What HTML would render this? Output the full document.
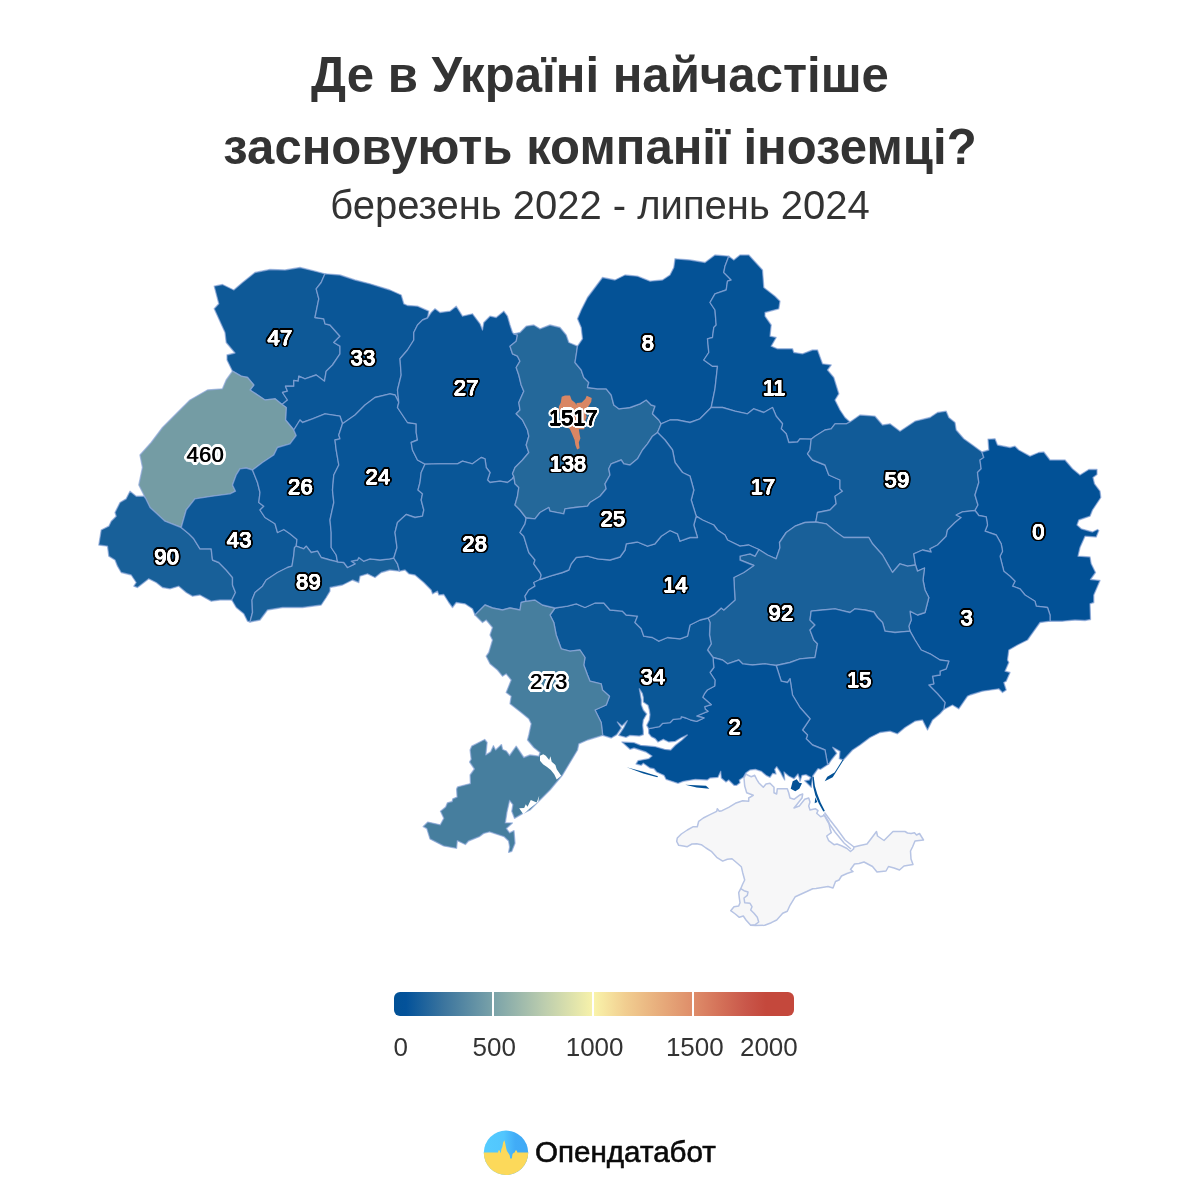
<!DOCTYPE html>
<html lang="uk"><head><meta charset="utf-8"><title>Де в Україні найчастіше засновують компанії іноземці?</title>
<style>
html,body{margin:0;padding:0;background:#fff}
body{width:1200px;height:1200px;position:relative;overflow:hidden;font-family:"Liberation Sans",Arial,sans-serif;color:#333}
.t{position:absolute;left:0;width:1200px;text-align:center;white-space:nowrap;margin:0}
h1.t{font-size:49.1px;font-weight:700;line-height:72px;top:38.8px}
.sub{font-size:40px;line-height:46px;top:182.4px}
.bar{position:absolute;left:394px;top:992px;width:400px;height:24px;border-radius:6px;
background:linear-gradient(to right,#025196 0%,#03529a 3%,#3c759e 12.5%,#7ba3a9 25%,#bccdae 37.5%,#f9f3aa 50%,#f1cd90 58%,#e9b27f 65%,#de8c69 75%,#d36f57 82%,#c9574a 88%,#c4483c 93%,#c4483c 100%)}
.tick{position:absolute;top:992px;width:2px;height:24px;background:#fff}
.lab{position:absolute;top:1033px;font-size:26px;line-height:28px;white-space:nowrap}
.lab.c{width:100px;margin-left:-50px;text-align:center}
.lab.r{width:100px;margin-left:-100px;text-align:right}
.l{position:absolute;width:80px;height:28px;line-height:28px;text-align:center;font-size:21.8px;font-weight:400;letter-spacing:0.4px;white-space:nowrap}
.ld{color:#fff;text-shadow:0.50px 0.00px 0 #fff,0.35px 0.35px 0 #fff,0.00px 0.50px 0 #fff,-0.35px 0.35px 0 #fff,-0.50px 0.00px 0 #fff,-0.35px -0.35px 0 #fff,-0.00px -0.50px 0 #fff,0.35px -0.35px 0 #fff,1.45px 0.00px 0 #000,1.26px 0.72px 0 #000,0.73px 1.26px 0 #000,0.00px 1.45px 0 #000,-0.72px 1.26px 0 #000,-1.26px 0.72px 0 #000,-1.45px 0.00px 0 #000,-1.26px -0.72px 0 #000,-0.73px -1.26px 0 #000,-0.00px -1.45px 0 #000,0.73px -1.26px 0 #000,1.26px -0.73px 0 #000,2.40px 0.00px 0 #000,2.22px 0.92px 0 #000,1.70px 1.70px 0 #000,0.92px 2.22px 0 #000,0.00px 2.40px 0 #000,-0.92px 2.22px 0 #000,-1.70px 1.70px 0 #000,-2.22px 0.92px 0 #000,-2.40px 0.00px 0 #000,-2.22px -0.92px 0 #000,-1.70px -1.70px 0 #000,-0.92px -2.22px 0 #000,-0.00px -2.40px 0 #000,0.92px -2.22px 0 #000,1.70px -1.70px 0 #000,2.22px -0.92px 0 #000;}
.lk{color:#000;text-shadow:0.50px 0.00px 0 #000,0.35px 0.35px 0 #000,0.00px 0.50px 0 #000,-0.35px 0.35px 0 #000,-0.50px 0.00px 0 #000,-0.35px -0.35px 0 #000,-0.00px -0.50px 0 #000,0.35px -0.35px 0 #000,1.55px 0.00px 0 #fff,1.34px 0.77px 0 #fff,0.78px 1.34px 0 #fff,0.00px 1.55px 0 #fff,-0.77px 1.34px 0 #fff,-1.34px 0.77px 0 #fff,-1.55px 0.00px 0 #fff,-1.34px -0.77px 0 #fff,-0.78px -1.34px 0 #fff,-0.00px -1.55px 0 #fff,0.78px -1.34px 0 #fff,1.34px -0.78px 0 #fff,2.60px 0.00px 0 #fff,2.40px 0.99px 0 #fff,1.84px 1.84px 0 #fff,0.99px 2.40px 0 #fff,0.00px 2.60px 0 #fff,-0.99px 2.40px 0 #fff,-1.84px 1.84px 0 #fff,-2.40px 0.99px 0 #fff,-2.60px 0.00px 0 #fff,-2.40px -0.99px 0 #fff,-1.84px -1.84px 0 #fff,-0.99px -2.40px 0 #fff,-0.00px -2.60px 0 #fff,0.99px -2.40px 0 #fff,1.84px -1.84px 0 #fff,2.40px -0.99px 0 #fff;}
.ll{color:#000;text-shadow:0.70px 0 0 #000,1.90px 0.00px 0 #fff,1.69px 0.77px 0 #fff,1.12px 1.34px 0 #fff,0.35px 1.55px 0 #fff,-0.42px 1.34px 0 #fff,-0.99px 0.77px 0 #fff,-1.20px 0.00px 0 #fff,-0.99px -0.77px 0 #fff,-0.43px -1.34px 0 #fff,0.35px -1.55px 0 #fff,1.12px -1.34px 0 #fff,1.69px -0.78px 0 #fff,3.10px 0.00px 0 #fff,2.89px 1.05px 0 #fff,2.29px 1.94px 0 #fff,1.40px 2.54px 0 #fff,0.35px 2.75px 0 #fff,-0.70px 2.54px 0 #fff,-1.59px 1.94px 0 #fff,-2.19px 1.05px 0 #fff,-2.40px 0.00px 0 #fff,-2.19px -1.05px 0 #fff,-1.59px -1.94px 0 #fff,-0.70px -2.54px 0 #fff,0.35px -2.75px 0 #fff,1.40px -2.54px 0 #fff,2.29px -1.94px 0 #fff,2.89px -1.05px 0 #fff,3px 0 0 #fff,-2.8px 0 0 #fff;}
.brand{position:absolute;left:535px;top:1133.6px;font-size:29.6px;line-height:36px;font-weight:400;color:#0a0a0a;white-space:nowrap;-webkit-text-stroke:0.6px #0a0a0a}
</style></head><body>
<h1 class="t">Де в Україні найчастіше<br>засновують компанії іноземці?</h1>
<div class="t sub">березень 2022 - липень 2024</div>
<svg width="1200" height="1200" viewBox="0 0 1200 1200" style="position:absolute;left:0;top:0">
<path d="M746 774 L748 775.3 L751.3 776.7 L754.7 775.3 L756.7 779.3 L758.7 782.7 L763.3 787.3 L766 784 L770 783.3 L774 787.3 L774 792.7 L776.7 794 L777.3 788.7 L782 788.7 L787.3 788.7 L788.7 792.7 L790 798 L794 799.3 L799.3 795.3 L802.7 794 L802 798 L796.7 804.7 L794 808 L799.3 806 L804.7 799.3 L808.7 798 L810 802 L808.7 806 L810 810 L815.3 808.7 L818 810.7 L816.7 813.3 L820.7 816.7 L824.7 815.3 L828.7 822 L830 828.7 L831.3 832.7 L826.7 836 L828.7 840.7 L834 844.7 L837 844 L842 846 L847 848.5 L850.5 851.5 L853.5 849 L854 847 L860 845.5 L867 844 L872 837.5 L876.5 831.5 L877.5 836 L884 840.5 L889 835.5 L893 831.5 L905 831.5 L907.5 833 L911 833.5 L914.5 832.8 L916.5 835 L919.5 833.5 L923.5 840 L915 841 L912.5 847 L910.5 851 L911 859 L913 864.5 L904 866 L899.5 870 L894 868 L888.5 866.5 L886 871 L877 872 L872.5 866.5 L864 862 L859 863.5 L854.5 864 L850.5 869.5 L853 871.5 L847 873.5 L841.5 876 L839 880 L835.5 881.5 L833 888 L828 886.5 L822 887.5 L816 888.5 L812.7 888.7 L807.3 891.3 L801.3 894 L795.3 896.7 L790 905.3 L787.3 911.3 L782.7 913.3 L776.7 920 L771.3 922.7 L764.7 925.3 L755.3 925.6 L750.7 925.3 L746 920 L743.3 916 L739.3 917.3 L735.3 914 L730.7 910.7 L734 906.7 L738.7 906 L740 902.7 L739.3 898 L738.7 892.7 L740.7 888.7 L742.7 884 L744.7 880 L742.7 872.7 L741.3 866.7 L736.7 862.7 L732 858.7 L727.3 859.3 L722.7 861.1 L716.7 857.3 L711.3 851.3 L706 848 L701.3 844.7 L696.7 843.7 L692 844 L687.3 846.7 L683.3 846 L678.7 845.3 L676.7 841.3 L677.3 838 L681.3 834 L687.3 830 L693.3 826.7 L697.3 826.7 L698.7 821.3 L703.3 818 L710 814.7 L716.7 811.3 L717.3 808.7 L719.3 811.3 L722 810.7 L728.7 807.3 L735.3 803.3 L742.7 800.7 L748.7 801.3 L748.7 798 L753.3 795.3 L746.7 792.7 L744.7 786 L744 778Z" fill="#f7f7f8" stroke="#b7c4e4" stroke-width="1.5" stroke-linejoin="round"/>
<path d="M740.7 888.7 L744 890.7 L748 892 L747.3 895.3 L744 898 L744.7 902.7 L750 903.3 L752 906.7 L750.7 910 L754 913.3 L757.3 917.3 L758.7 922 L755.3 924.7 L750.7 925.3" fill="none" stroke="#b7c4e4" stroke-width="1.5" stroke-linejoin="round"/>
<g stroke="#8ba6d9" stroke-opacity="0.7" stroke-width="1.35" stroke-linejoin="round">
<path d="M232.5 371.2 L227 360 L227 355 L235 353 L226.2 342.5 L225 332.5 L214.2 308.8 L218.8 303.8 L214.2 286.2 L222.5 284.5 L233.8 290 L242.5 282.5 L255 272.5 L270 269.5 L285 270 L300 267.5 L315 271.2 L325 273.8 L321.2 282.5 L316.2 288.8 L318.8 298.8 L315 317.5 L323.8 318.8 L325 323.8 L330 325 L340 336.2 L333.8 342.5 L340 346.2 L340 353.8 L332.5 365 L326.2 371.2 L324.5 381.2 L316.2 375 L305 378.8 L298.8 376.2 L298.2 381.2 L293.8 380.5 L293.8 386.2 L285.5 386.2 L287.5 391.2 L282.5 392.5 L287.5 400 L282 404.5 L275 398.8 L265 400 L250 390 L253.8 385 L247.5 377.5 L241.2 376.2Z" fill="#0e5997"/>
<path d="M325 273.8 L340 275 L355 280 L370 283.8 L390 290 L401.2 295 L403.8 303.8 L407.5 305.5 L417.5 306.2 L428.8 311.2 L427.5 318 L422.5 320 L417.5 325 L413.8 332.5 L413.8 340 L407.5 350 L400 358.8 L401.2 375 L397.5 390 L398.8 402.5 L395 395 L390 393.8 L375 397.5 L365 405 L355 415 L342.5 423.8 L340 416.2 L325 413.8 L312.5 418.8 L302.5 422.5 L300 420 L293.8 430 L285.5 420 L286.2 407.5 L282 404.5 L287.5 400 L282.5 392.5 L287.5 391.2 L285.5 386.2 L293.8 386.2 L293.8 380.5 L298.2 381.2 L298.8 376.2 L305 378.8 L316.2 375 L324.5 381.2 L326.2 371.2 L332.5 365 L340 353.8 L340 346.2 L333.8 342.5 L340 336.2 L330 325 L325 323.8 L323.8 318.8 L315 317.5 L318.8 298.8 L316.2 288.8 L321.2 282.5Z" fill="#0a5697"/>
<path d="M145.5 498.2 L138.8 485 L142.5 467.5 L140 455 L151.2 442.5 L162.5 427.5 L176.2 413.8 L190 400 L207.5 390 L222.5 388.8 L226.2 380 L232.5 371.2 L241.2 376.2 L247.5 377.5 L253.8 385 L250 390 L265 400 L275 398.8 L282 404.5 L286.2 407.5 L285.5 420 L293.8 430 L296.2 435.5 L290 443.8 L277.5 447.5 L273.8 455 L262.5 462.5 L252.5 470 L246.2 468 L240 468.8 L236.2 475 L232.5 485 L235.5 491.2 L230 493.8 L212.5 496.2 L195 498.8 L186.2 510 L181.2 527.5 L165 521.2 L155.5 512.5 L150 507.5Z" fill="#749ca4"/>
<path d="M231.8 600 L220 600 L211.2 601.2 L200 595 L192.5 596.2 L186.2 592.5 L178.8 586.2 L170 588.8 L162.5 587.5 L156.2 582.5 L148.8 578.8 L137.5 587.5 L133.8 586.2 L136.2 582.5 L131.2 575 L121.2 572.5 L117.5 566.2 L115 560 L108.8 556.2 L107.5 546.2 L98.8 545 L101.2 530 L108.8 526.2 L111.2 521.2 L116.2 516.2 L115 512.5 L120 502.5 L126.2 498.8 L130 491.2 L136.2 496.2 L143.8 496.2 L145.5 498.2 L150 507.5 L155.5 512.5 L165 521.2 L181.2 527.5 L188.8 533.8 L193.8 538.8 L200 548.8 L211.2 548.8 L212.5 560 L218.8 562.5 L226.2 570 L232.5 577.5 L232.5 585 L235.5 592.5Z" fill="#186099"/>
<path d="M181.2 527.5 L186.2 510 L195 498.8 L212.5 496.2 L230 493.8 L235.5 491.2 L232.5 485 L236.2 475 L240 468.8 L246.2 468 L252.5 470 L257.5 482.5 L260 492.5 L258.8 502.5 L263.8 506.2 L260 510 L265 517.5 L275 523.8 L277.5 532.5 L283.8 529.5 L290 533.8 L297 539.5 L296.2 546.2 L294.5 547.5 L293.8 555 L292 566.2 L287.5 567.5 L277.5 572.5 L266.2 580 L262.5 586.2 L255 592.5 L252 600 L252.5 612.5 L250 622 L247.5 621.2 L243.8 613.8 L236.2 607.5 L231.8 600 L235.5 592.5 L232.5 585 L232.5 577.5 L226.2 570 L218.8 562.5 L212.5 560 L211.2 548.8 L200 548.8 L193.8 538.8 L188.8 533.8Z" fill="#0d5897"/>
<path d="M252.5 470 L262.5 462.5 L273.8 455 L277.5 447.5 L290 443.8 L296.2 435.5 L293.8 430 L300 420 L302.5 422.5 L312.5 418.8 L325 413.8 L340 416.2 L342.5 423.8 L338.8 435 L340 438.8 L335 440 L336.2 450 L338.8 465 L333.8 475 L332.5 490 L333.8 502.5 L330 520 L331.2 532.5 L331.2 547.5 L336.2 555 L337.5 561.8 L330 560 L321.2 557.5 L317.5 551.2 L311.2 552.5 L306.2 546.2 L303.8 548.8 L296.2 546.2 L297 539.5 L290 533.8 L283.8 529.5 L277.5 532.5 L275 523.8 L265 517.5 L260 510 L263.8 506.2 L258.8 502.5 L260 492.5 L257.5 482.5Z" fill="#085597"/>
<path d="M296.2 546.2 L303.8 548.8 L306.2 546.2 L311.2 552.5 L317.5 551.2 L321.2 557.5 L330 560 L337.5 561.8 L343.8 562.5 L347.5 567.5 L355 563.8 L351.2 561.2 L357.5 560 L358.8 557.5 L363.8 561.2 L370 558.8 L380 560 L390 558.8 L393.8 558 L397.5 563.8 L399.5 571.2 L390 570 L381.2 572.5 L375 577.5 L367.5 573.8 L360 576.2 L358.8 582.5 L352.5 580 L342.5 585 L330 587.5 L330 591.2 L326.2 597.5 L321.2 605 L302.5 607.5 L282.5 607.5 L267.5 610 L260 620 L250 622 L252.5 612.5 L252 600 L255 592.5 L262.5 586.2 L266.2 580 L277.5 572.5 L287.5 567.5 L292 566.2 L293.8 555 L294.5 547.5Z" fill="#186099"/>
<path d="M342.5 423.8 L355 415 L365 405 L375 397.5 L390 393.8 L395 395 L398.8 402.5 L397.5 407.5 L407.5 422.5 L416.2 423.8 L416.2 432.5 L417.5 440 L411.2 442.5 L412.5 450 L417.5 460 L425 464.2 L421.2 472.5 L420 482.5 L418 490 L422.5 493.8 L421.2 500 L423.8 510 L422.5 516.2 L415 517.5 L406.2 514.5 L397.5 522.5 L395 532.5 L397 547.5 L393.8 558 L390 558.8 L380 560 L370 558.8 L363.8 561.2 L358.8 557.5 L357.5 560 L351.2 561.2 L355 563.8 L347.5 567.5 L343.8 562.5 L337.5 561.8 L336.2 555 L331.2 547.5 L331.2 532.5 L330 520 L333.8 502.5 L332.5 490 L333.8 475 L338.8 465 L336.2 450 L335 440 L340 438.8 L338.8 435Z" fill="#085597"/>
<path d="M427.5 318 L431.2 312.5 L435 308.8 L440 312.5 L450 311.2 L456.2 306.2 L462.5 316.2 L472.5 313.8 L480 323.8 L482.5 330 L483.8 322.5 L490 316.2 L496.2 317.5 L503.8 311.2 L507.5 316.2 L510 325 L512.5 332.5 L513.8 333.8 L517.5 335 L516.2 341.2 L510 346.2 L512.5 353.8 L517.5 356.2 L520 361.2 L516.2 367.5 L518.8 375 L521.2 385 L523.8 391.2 L518.8 402.5 L520 410 L516.2 413.8 L522.5 420 L527.5 430 L528.8 436.2 L526.2 445 L528.8 452.5 L522.5 460 L515 467.5 L512.5 473.8 L513.8 476.2 L512.5 478.8 L507.5 482.5 L500 481.2 L490 482.5 L487.5 480 L490 472.5 L486.2 467.5 L485 458.8 L481.2 457.5 L472.5 463.8 L462.5 461.2 L457.5 463.8 L440 463.8 L425 464.2 L417.5 460 L412.5 450 L411.2 442.5 L417.5 440 L416.2 432.5 L416.2 423.8 L407.5 422.5 L397.5 407.5 L398.8 402.5 L397.5 390 L401.2 375 L400 358.8 L407.5 350 L413.8 340 L413.8 332.5 L417.5 325 L422.5 320Z" fill="#095597"/>
<path d="M425 464.2 L440 463.8 L457.5 463.8 L462.5 461.2 L472.5 463.8 L481.2 457.5 L485 458.8 L486.2 467.5 L490 472.5 L487.5 480 L490 482.5 L500 481.2 L507.5 482.5 L512.5 478.8 L513.8 476.2 L515 483.8 L518.8 487.5 L517.5 496.2 L515 505 L520 510 L526.2 518 L525 523.8 L520 532.5 L523.8 536.2 L528.8 552.5 L535 560 L533.8 563.8 L540 572.5 L541.2 575 L540 579.5 L533.8 582.5 L535 586.2 L528.8 590 L525 596.2 L526.2 601.2 L521.2 602.5 L520 610 L510 608 L502.5 610 L492.5 608 L485 605 L475 615 L472.5 608.8 L465 603.8 L456.2 602.5 L452.5 607.5 L448.8 602.5 L443.8 594.5 L438.8 595 L437.5 591.2 L432.5 593.8 L431.2 590 L423.8 582.5 L415 575 L408.8 573.8 L405 570 L399.5 571.2 L397.5 563.8 L393.8 558 L397 547.5 L395 532.5 L397.5 522.5 L406.2 514.5 L415 517.5 L422.5 516.2 L423.8 510 L421.2 500 L422.5 493.8 L418 490 L420 482.5 L421.2 472.5Z" fill="#095697"/>
<path d="M513.8 333.8 L520 332.5 L526.2 326.2 L533.8 325 L540 328.8 L550 325 L560 327.5 L566.2 335 L568.8 342.5 L577.5 346.2 L576.2 355 L575 362.5 L581.2 370 L583.8 377.5 L588.8 382.5 L587.5 387.5 L597.5 388.8 L606.2 388.8 L611.2 395 L613.8 405 L618.8 408.8 L630 407.5 L640 403.8 L646.2 400 L651.2 405 L655 406.2 L652.5 413.8 L658.8 420 L661.2 423.8 L657.5 432.5 L652.5 436.2 L647.5 443.8 L642.5 450 L637.5 458.8 L630 465 L623.8 463.8 L621.2 460 L611.2 463.8 L608.8 468.8 L610 475 L605 483.8 L606.2 488.8 L600 496.2 L590 502.5 L587.5 506.2 L575 507.5 L565 508.8 L563.8 513.8 L550 511.2 L548.8 507.5 L540 512.5 L535 518.8 L526.2 518 L520 510 L515 505 L517.5 496.2 L518.8 487.5 L515 483.8 L513.8 476.2 L512.5 473.8 L515 467.5 L522.5 460 L528.8 452.5 L526.2 445 L528.8 436.2 L527.5 430 L522.5 420 L516.2 413.8 L520 410 L518.8 402.5 L523.8 391.2 L521.2 385 L518.8 375 L516.2 367.5 L520 361.2 L517.5 356.2 L512.5 353.8 L510 346.2 L516.2 341.2 L517.5 335Z" fill="#24689a"/>
<path d="M577.5 346.2 L582.5 338.8 L581.2 327.5 L577.5 318.8 L581.2 310 L587.5 297.5 L595 287.5 L602.5 277.5 L615 280 L625 275 L637.5 276.2 L650 281.2 L662.5 280 L670 275 L673.8 267.5 L675 258.8 L690 260 L705 262.5 L715 255 L728.8 256.2 L725 266.2 L723.8 272.5 L731.2 280 L727.5 281.2 L726.2 290 L715 293.8 L710 302.5 L715 310 L716.2 325 L713.8 327.5 L712.5 337.5 L707.5 338.8 L708.8 352.5 L703.8 360 L712.5 366.2 L717.5 366.2 L715 388.8 L711.2 407.5 L700 418.8 L690 422.5 L677.5 420 L670 420 L661.2 423.8 L658.8 420 L652.5 413.8 L655 406.2 L651.2 405 L646.2 400 L640 403.8 L630 407.5 L618.8 408.8 L613.8 405 L611.2 395 L606.2 388.8 L597.5 388.8 L587.5 387.5 L588.8 382.5 L583.8 377.5 L581.2 370 L575 362.5 L576.2 355Z" fill="#045296"/>
<path d="M728.8 256.2 L733.8 260 L740 255 L748.8 255 L762.5 270 L763.8 287.5 L775 296.2 L780 301.2 L778.8 308.8 L765 312.5 L765 316.2 L771.2 325 L770 336.2 L776.2 337.5 L771.2 346.2 L777.5 348.8 L792.5 348.8 L793.8 352.5 L802.5 353.8 L812.5 350 L817.5 350 L822.5 363.8 L831.2 365 L827.5 370 L833.8 377.5 L838.8 393.8 L835 400 L840 410 L845 417.5 L850 422 L846.2 423.8 L835 423.8 L831.2 428.8 L825 430 L815 436.2 L811.2 439.2 L800 438.8 L797.5 442 L788.8 442.5 L786.2 433.8 L781.2 428.8 L782.5 423.8 L776.2 416.2 L772.5 407.5 L763.8 412.5 L753.8 408.8 L747.5 413.8 L735 411.2 L722.5 407.5 L711.2 407.5 L715 388.8 L717.5 366.2 L712.5 366.2 L703.8 360 L708.8 352.5 L707.5 338.8 L712.5 337.5 L713.8 327.5 L716.2 325 L715 310 L710 302.5 L715 293.8 L726.2 290 L727.5 281.2 L731.2 280 L723.8 272.5 L725 266.2Z" fill="#055396"/>
<path d="M661.2 423.8 L670 420 L677.5 420 L690 422.5 L700 418.8 L711.2 407.5 L722.5 407.5 L735 411.2 L747.5 413.8 L753.8 408.8 L763.8 412.5 L772.5 407.5 L776.2 416.2 L782.5 423.8 L781.2 428.8 L786.2 433.8 L788.8 442.5 L797.5 442 L800 438.8 L811.2 439.2 L810 450 L807.5 453.8 L812.5 460 L825 465 L828.8 475 L840 480 L840 488.8 L842.5 491.2 L835 496.2 L836.2 503.8 L830 510 L817.5 512.5 L815.8 522 L805 522.5 L795 526.2 L786.2 532.5 L779.5 542.5 L780 547.5 L776.2 558.8 L767.5 555 L758.8 549.5 L748.8 545 L740 546.2 L727.5 540 L725 535 L717.5 530 L713.8 525 L702.5 520 L696.2 516.2 L691.2 500 L693.8 490 L690 476.2 L682.5 472.5 L675 462.5 L672.5 450 L665 440 L657.5 432.5Z" fill="#065497"/>
<path d="M850 422 L860 415 L875 416.2 L882.5 425 L890 423.8 L900 431.2 L915 421.2 L930 417.5 L937.5 412.5 L946.2 411.2 L948.8 417.5 L955 422.5 L956.2 430 L963.8 438.8 L972.5 445 L982 452 L983.8 457.5 L980 460 L981.2 468.8 L977.5 472.5 L978.8 482.5 L975 495 L978 505 L975 510.5 L962.5 511.8 L956.2 515 L961.2 517.5 L955 522.5 L947.5 530 L946.2 536.2 L937.5 545 L930 548.8 L931.2 552 L922.5 550 L913.8 553.8 L915.5 565 L907.5 566.2 L900 563.8 L892.5 572.5 L887.5 563.8 L882.5 555 L872.5 543.8 L868.8 537.5 L855 537.5 L843.8 537.5 L835 531.2 L826.2 523.8 L815.8 522 L817.5 512.5 L830 510 L836.2 503.8 L835 496.2 L842.5 491.2 L840 488.8 L840 480 L828.8 475 L825 465 L812.5 460 L807.5 453.8 L810 450 L811.2 439.2 L815 436.2 L825 430 L831.2 428.8 L835 423.8 L846.2 423.8Z" fill="#115b98"/>
<path d="M982 452 L988.8 450 L988 439.2 L995 438.8 L997.5 445 L1010 447.5 L1015 446.2 L1018.8 450 L1030 456.2 L1038.8 452.5 L1043.8 452 L1050 460 L1065 460 L1072.5 468.8 L1080 475 L1088.8 469.5 L1097 469.5 L1097 474.5 L1093 477.5 L1094.5 483.8 L1100 491.2 L1100.8 497.5 L1092.5 510 L1090 516.2 L1078.8 520 L1077 525 L1081.2 528.8 L1092.5 532 L1097.5 529.5 L1098.8 530.5 L1096.2 537 L1085 536.2 L1080 547.5 L1078 556.2 L1090 557 L1091.2 563.8 L1095.5 572.5 L1090.5 579.5 L1100 580.5 L1093.8 595 L1093.8 602.5 L1090 603.8 L1090.5 619.5 L1085 620.5 L1075 620 L1062.5 621.2 L1050 621.2 L1050 615 L1047.5 607.5 L1036.2 606.2 L1035 601.2 L1025 595 L1020 588.8 L1012.5 586.2 L1015 581.2 L1010 576.2 L1003.8 571.2 L1000 556.2 L1002.5 551.2 L1001.2 543.8 L996.2 535 L985 531.2 L987.5 525 L986.2 516.8 L978.8 515.5 L975 510.5 L978 505 L975 495 L978.8 482.5 L977.5 472.5 L981.2 468.8 L980 460 L983.8 457.5Z" fill="#025196"/>
<path d="M975 510.5 L978.8 515.5 L986.2 516.8 L987.5 525 L985 531.2 L996.2 535 L1001.2 543.8 L1002.5 551.2 L1000 556.2 L1003.8 571.2 L1010 576.2 L1015 581.2 L1012.5 586.2 L1020 588.8 L1025 595 L1035 601.2 L1036.2 606.2 L1047.5 607.5 L1050 615 L1050 621.2 L1040 622.5 L1033.8 631.2 L1027.5 640 L1017.5 645 L1008.8 650 L1007.5 660 L1008.8 662.5 L1005 671.2 L1010 672.5 L1006.2 681.2 L1003.8 682.5 L1006.2 690 L1002.5 692.5 L998.8 688.8 L982.5 691.2 L970 695 L967.5 696.2 L958.8 708.8 L952.5 705 L943.8 709.5 L945 702.5 L937.5 693.8 L928.8 685 L933.8 683.8 L932.5 676.2 L940 675 L940 671.2 L946.2 668.8 L948.8 661.2 L940 660 L930 653.8 L921.2 650 L915 640 L910 631.2 L908.8 626.2 L911.2 620 L910 611.2 L917.5 615 L925 612.5 L928.8 597.5 L925 590 L923 580 L924.5 568 L917.5 571.2 L915.5 565 L913.8 553.8 L922.5 550 L931.2 552 L930 548.8 L937.5 545 L946.2 536.2 L947.5 530 L955 522.5 L961.2 517.5 L956.2 515 L962.5 511.8Z" fill="#035196"/>
<path d="M815.8 522 L826.2 523.8 L835 531.2 L843.8 537.5 L855 537.5 L868.8 537.5 L872.5 543.8 L882.5 555 L887.5 563.8 L892.5 572.5 L900 563.8 L907.5 566.2 L915.5 565 L917.5 571.2 L924.5 568 L923 580 L925 590 L928.8 597.5 L925 612.5 L917.5 615 L910 611.2 L911.2 620 L908.8 626.2 L910 631.2 L895 632.5 L885 631.2 L882.5 622.5 L877.5 617.5 L873.8 612 L865 610 L855 608.8 L850 612.5 L835 608.8 L822.5 610 L811.2 611.2 L810 620 L815 625 L810 630 L813.8 640 L817.5 643.8 L815 657.5 L800 658.8 L790 662.5 L776.2 665.5 L765 663.8 L752.5 665 L742.5 663.8 L738.8 660 L727.5 663.8 L722.5 660 L713 657.5 L707.5 650 L711.2 643.8 L709.5 635 L710 622.5 L708 618 L715 613.8 L721.2 608 L723.8 610 L735 600 L733.8 577.5 L743.8 572.5 L753.8 565.5 L740 560 L740 556.2 L750 553.8 L755 556.2 L758.8 549.5 L767.5 555 L776.2 558.8 L780 547.5 L779.5 542.5 L786.2 532.5 L795 526.2 L805 522.5Z" fill="#196099"/>
<path d="M776.2 665.5 L790 662.5 L800 658.8 L815 657.5 L817.5 643.8 L813.8 640 L810 630 L815 625 L810 620 L811.2 611.2 L822.5 610 L835 608.8 L850 612.5 L855 608.8 L865 610 L873.8 612 L877.5 617.5 L882.5 622.5 L885 631.2 L895 632.5 L910 631.2 L915 640 L921.2 650 L930 653.8 L940 660 L948.8 661.2 L946.2 668.8 L940 671.2 L940 675 L932.5 676.2 L933.8 683.8 L928.8 685 L937.5 693.8 L945 702.5 L943.8 709.5 L940 713.8 L932.5 720 L927.5 730 L922.5 720 L915 721.2 L905 727.5 L897.5 733.8 L890 731.2 L880 732.5 L870 737.5 L860 745 L852.5 750 L843.3 760 L839.3 758.7 L840 751.3 L832.7 747.3 L836.7 753.3 L831.3 760 L828.7 764 L827.5 763.8 L825 750 L812.5 745 L806.2 738.8 L807.5 735 L802.5 730 L810 718.8 L800 707.5 L792.5 695 L790 678.8 L787.5 682.5 L781.2 681.2Z" fill="#065396"/>
<path d="M776.2 665.5 L781.2 681.2 L787.5 682.5 L790 678.8 L792.5 695 L800 707.5 L810 718.8 L802.5 730 L807.5 735 L806.2 738.8 L812.5 745 L825 750 L827.5 763.8 L828.7 764 L820.7 769.3 L818 768.7 L812.7 776 L811.3 787.3 L804.7 780.7 L809.3 780 L810.7 777.3 L806 774.7 L802 775.3 L800 781.3 L799.3 778 L798 774 L794 778.7 L788.7 776 L784 772 L784.7 780 L782.7 776.7 L780.7 772.7 L776.7 766.7 L774.7 769.3 L776 774 L772.7 773.3 L770 777.3 L766 775.3 L761.3 771.3 L755.3 769.3 L750 770 L746 772.7 L743.3 777.3 L739.3 780 L740 782.7 L736.7 785.3 L734 785.3 L728.7 780 L726 782 L721.3 778 L720.7 771.3 L718 777.3 L710 778 L707.3 780 L695.3 779.3 L683.3 781.3 L678 783.3 L666 779.3 L664 775.3 L656.7 772 L654 768.7 L650 768 L643.3 763.3 L641.3 765.3 L636 764 L638 760.7 L648.7 758.7 L652 756 L646 752 L634 748 L630 749.3 L622 742 L634 742.7 L640.7 745.3 L648.7 746 L655.3 746.7 L664.7 749.3 L670.7 750 L675.3 745.3 L682 740 L687.3 734.9 L680.7 738 L675.3 741.3 L668.7 742 L663.3 739.3 L658 742 L655.3 738.7 L651.3 736.7 L648.7 733.3 L648.7 728.7 L659.3 726.7 L662.7 723.3 L670 722.7 L673.3 719.3 L680.7 718.7 L681.3 716.7 L686 718 L690.7 720 L696.7 721.3 L704 718 L696.7 716 L704.7 712.7 L708 711.3 L705.3 709.3 L704.7 706.7 L711.3 704.7 L707.3 701.3 L702.7 697.3 L704.7 693.3 L707.3 690 L714.7 686 L715 680 L710 672.5 L713.8 667.5 L713 657.5 L722.5 660 L727.5 663.8 L738.8 660 L742.5 663.8 L752.5 665 L765 663.8Z" fill="#025196"/>
<path d="M708 618 L710 622.5 L709.5 635 L711.2 643.8 L707.5 650 L713 657.5 L713.8 667.5 L710 672.5 L715 680 L714.7 686 L707.3 690 L704.7 693.3 L702.7 697.3 L707.3 701.3 L711.3 704.7 L704.7 706.7 L705.3 709.3 L708 711.3 L704.7 712.7 L696.7 716 L704 718 L696.7 721.3 L690.7 720 L686 718 L681.3 716.7 L680.7 718.7 L673.3 719.3 L670 722.7 L662.7 723.3 L659.3 726.7 L648.7 728.7 L646.7 725.3 L649.3 720 L650 714.7 L649.3 710 L648 705.3 L643.3 702 L643.3 697.3 L642.3 693.3 L639.3 688.7 L640.4 694.7 L641.3 700 L641.3 704.7 L643.3 710 L646.7 714 L643.3 720 L642.7 725.3 L643.3 731.3 L643.3 734.7 L639.3 736 L630 735.3 L626 737.3 L618.7 735.3 L624 727.3 L627.3 720.7 L622 726 L617.3 722 L621.3 728 L616.7 734.7 L611.3 738 L602.7 735.3 L601.2 722.5 L595 710 L606.2 705 L609.5 696.2 L602.5 690 L601.2 683.8 L590 681.2 L587.5 675 L583.8 665 L585 657.5 L580 650 L570 651.2 L561.2 648.8 L556.2 635 L553.8 622.5 L550 615 L555 608 L567.5 606.2 L576.2 603.8 L585 607.5 L595 603 L603.8 603 L610 610 L622.5 611.2 L626.2 615 L637.5 616.2 L635 622.5 L641.2 628.8 L643.8 636.2 L652.5 637.5 L658.8 641.2 L667.5 637.5 L680 638.8 L687.5 636.2 L690 625 L700 620Z" fill="#0a5797"/>
<path d="M555 608 L550 615 L553.8 622.5 L556.2 635 L561.2 648.8 L570 651.2 L580 650 L585 657.5 L583.8 665 L587.5 675 L590 681.2 L601.2 683.8 L602.5 690 L609.5 696.2 L606.2 705 L595 710 L601.2 722.5 L602.7 735.3 L587.5 740 L578.8 743.8 L577.5 750 L570 762.5 L562.5 775 L550 790 L540 800 L530 810 L522.1 813.9 L514.5 818.3 L511.8 811.2 L512.9 804.7 L509.6 800.4 L506.9 812.3 L505.3 822.9 L512.4 822.9 L506.4 828.6 L509.6 832.9 L514 830.7 L515 843.2 L511.8 851.3 L508.6 852.4 L509.6 847 L508.6 841 L504.2 836.7 L489.6 831.8 L483.6 833.4 L479.3 836.7 L468.5 841 L465.4 844.5 L457.3 840.7 L456.6 848.3 L443.6 845.9 L430 838.9 L426.8 828.6 L423.2 826.6 L427.9 822.1 L440.3 824.8 L443.8 818.3 L440.5 811.2 L445.7 806.9 L447.4 802.8 L452.2 801.5 L452.8 798.8 L457.1 797.1 L456.6 789 L457.6 786.9 L470.4 783.6 L470.1 775 L474.4 769 L469.6 762 L471.2 759.2 L470.1 750 L471.7 746.2 L484.7 739.5 L487.1 742.5 L485.8 754.9 L490.7 751.7 L493.4 745.7 L495.6 750 L501.5 744.6 L502.6 749.5 L506.4 751.1 L509.6 755.5 L516.2 746.2 L523.8 757.5 L530 755 L538.8 756.2 L540 752.5 L533.8 747.5 L527.5 740 L528.8 735 L531.2 723.8 L528.8 718.8 L521.2 712.5 L510 703.8 L511.2 696.2 L506.2 692.5 L511.2 680 L506.2 673.8 L502.5 676.2 L497.5 670 L490 663.8 L486.2 656.2 L488.8 652.5 L492.5 640 L490 635 L492.5 627.5 L486.2 620 L482.5 622.5 L475 615 L485 605 L492.5 608 L502.5 610 L510 608 L520 610 L521.2 602.5 L526.2 601.2 L535 600 L542.5 605Z" fill="#467e9e"/>
<path d="M540 579.5 L550 576.2 L562.5 572.5 L568.8 570 L571.2 563.8 L576.2 557.5 L587.5 556.2 L597.5 558.8 L610 560 L620 557 L625 550 L626.2 543.8 L637.5 542 L647.5 546.2 L655 543.8 L661.2 536.2 L670 530.5 L677.5 533.8 L680 541.2 L690 537.5 L697.5 537.5 L693.8 525 L696.2 516.2 L702.5 520 L713.8 525 L717.5 530 L725 535 L727.5 540 L740 546.2 L748.8 545 L758.8 549.5 L755 556.2 L750 553.8 L740 556.2 L740 560 L753.8 565.5 L743.8 572.5 L733.8 577.5 L735 600 L723.8 610 L721.2 608 L715 613.8 L708 618 L700 620 L690 625 L687.5 636.2 L680 638.8 L667.5 637.5 L658.8 641.2 L652.5 637.5 L643.8 636.2 L641.2 628.8 L635 622.5 L637.5 616.2 L626.2 615 L622.5 611.2 L610 610 L603.8 603 L595 603 L585 607.5 L576.2 603.8 L567.5 606.2 L555 608 L542.5 605 L535 600 L526.2 601.2 L525 596.2 L528.8 590 L535 586.2 L533.8 582.5Z" fill="#055396"/>
<path d="M526.2 518 L535 518.8 L540 512.5 L548.8 507.5 L550 511.2 L563.8 513.8 L565 508.8 L575 507.5 L587.5 506.2 L590 502.5 L600 496.2 L606.2 488.8 L605 483.8 L610 475 L608.8 468.8 L611.2 463.8 L621.2 460 L623.8 463.8 L630 465 L637.5 458.8 L642.5 450 L647.5 443.8 L652.5 436.2 L657.5 432.5 L665 440 L672.5 450 L675 462.5 L682.5 472.5 L690 476.2 L693.8 490 L691.2 500 L696.2 516.2 L693.8 525 L697.5 537.5 L690 537.5 L680 541.2 L677.5 533.8 L670 530.5 L661.2 536.2 L655 543.8 L647.5 546.2 L637.5 542 L626.2 543.8 L625 550 L620 557 L610 560 L597.5 558.8 L587.5 556.2 L576.2 557.5 L571.2 563.8 L568.8 570 L562.5 572.5 L550 576.2 L540 579.5 L541.2 575 L540 572.5 L533.8 563.8 L535 560 L528.8 552.5 L523.8 536.2 L520 532.5 L525 523.8Z" fill="#085597"/>
<path d="M561.7 396.7 L565 395.4 L570 395.4 L571.7 400 L575.4 402.9 L576.2 405 L576.7 402.9 L581.7 402.5 L585.4 398.8 L586.7 395.8 L591.7 397.9 L591.2 402.1 L588.8 405.8 L586.7 409.2 L585.4 413.3 L586.7 416.7 L585.4 420 L585 425 L584.2 429.2 L578.8 429.2 L579.6 434.2 L580.4 438.3 L578.8 442.5 L579.6 448.3 L577.1 449.6 L575.4 445 L574.6 440 L572.5 435 L570 429.2 L566.7 426.7 L563.3 421.7 L560 415 L558.8 406.7 L560.8 402.5Z" fill="#d98664" stroke="none"/>
</g>
<path d="M540 755.8 L543.3 754.2 L545.8 755.8 L549.2 760 L550.4 756.2 L551.7 761.7 L555.4 765 L556.7 769.2 L561.2 775.8 L556.7 779.6 L554.2 774.2 L550.8 770 L546.7 766.7 L543.3 764.6 L540 760.8Z" fill="#fff"/>
<path d="M519.2 808.3 L524.2 807.9 L525.8 804.2 L527.5 806.7 L530.8 800 L536.7 802.5 L539.2 795.8 L538.3 801.7 L530 808.3 L523.3 814.2Z" fill="#fff"/>
<path d="M626.7 767.3 L643.3 771.7 L658 776.3 L657.3 777.3 L643.3 773.6Z" fill="#025196"/>
<path d="M685.3 784.7 L706 785.7 L709.3 788.7 L696.7 787.5Z" fill="#025196"/>
<path d="M812.4 776.7 L813.3 787.3 L815.3 795.3 L818.7 803.3 L823.3 811.6 L824.9 811.1 L820.7 802.7 L817.3 794 L814.9 786 L813.7 776.7Z" fill="#025196"/>
<path d="M815.3 797.3 L817.3 802 L814.7 803.3Z" fill="#025196"/>
<path d="M843.6 760 L837.3 770 L835.3 773.3 L832.7 777.3 L824.7 781.3 L827.3 776.7 L834.5 772.4 L836.3 769.7 L842.7 759.6Z" fill="#025196"/>
<path d="M790.7 788.7 L792.7 781.3 L796.7 779.3 L799.3 782.7 L802 783.3 L799.3 788.7 L795.3 791.3Z" fill="#025196"/>
<path d="M824.5 812.5 L830 820 L837 829 L845 840 L854 847" fill="none" stroke="#b7c4e4" stroke-width="1.5"/>
<path d="M823.5 814 L828 822 L835 832 L844 843 L851 849" fill="none" stroke="#b7c4e4" stroke-width="1.5"/>
</svg><div class="l ld" style="left:240.1px;top:324.45px">47</div>
<div class="l ld" style="left:323.1px;top:344.45px">33</div>
<div class="l ll" style="left:165.1px;top:440.95px">460</div>
<div class="l ld" style="left:126.85px;top:542.7px">90</div>
<div class="l ld" style="left:199.35px;top:526.45px">43</div>
<div class="l ld" style="left:260.6px;top:472.7px">26</div>
<div class="l ld" style="left:268.6px;top:568.2px">89</div>
<div class="l ld" style="left:338.1px;top:462.7px">24</div>
<div class="l ld" style="left:426.35px;top:374.45px">27</div>
<div class="l ld" style="left:434.85px;top:530.2px">28</div>
<div class="l ld" style="left:527.9px;top:450.45px;letter-spacing:0">138</div>
<div class="l ld" style="left:608.1px;top:328.95px">8</div>
<div class="l ld" style="left:734.15px;top:374.45px;letter-spacing:0">11</div>
<div class="l ld" style="left:722.9px;top:472.7px;letter-spacing:0">17</div>
<div class="l ld" style="left:857.1px;top:466.45px">59</div>
<div class="l ld" style="left:998.6px;top:518.45px">0</div>
<div class="l ld" style="left:926.85px;top:604.45px">3</div>
<div class="l ld" style="left:741.1px;top:598.95px">92</div>
<div class="l ld" style="left:819.15px;top:666.45px;letter-spacing:0">15</div>
<div class="l ld" style="left:694.85px;top:712.7px">2</div>
<div class="l ld" style="left:613.1px;top:662.7px">34</div>
<div class="l ll" style="left:508.6px;top:668.2px">273</div>
<div class="l ld" style="left:635.4px;top:570.95px;letter-spacing:0">14</div>
<div class="l ld" style="left:573.1px;top:504.55px">25</div>
<div class="l lk" style="left:533.3px;top:404.45px;letter-spacing:0">1517</div>
<div class="bar"></div>
<div class="tick" style="left:492px"></div><div class="tick" style="left:592px"></div><div class="tick" style="left:692px"></div>
<div class="lab" style="left:393.5px">0</div>
<div class="lab c" style="left:494.3px">500</div>
<div class="lab c" style="left:594.6px">1000</div>
<div class="lab c" style="left:694.8px">1500</div>
<div class="lab r" style="left:797.8px">2000</div>
<svg width="46" height="48" viewBox="0 0 46 48" style="position:absolute;left:483px;top:1129px">
<defs><clipPath id="c"><circle cx="23" cy="23.8" r="22.2"/></clipPath>
<linearGradient id="sky" x1="0" y1="0" x2="1" y2="0"><stop offset="0" stop-color="#55ccff"/><stop offset="0.45" stop-color="#52c6fe"/><stop offset="0.7" stop-color="#41acf7"/><stop offset="1" stop-color="#3fa9f5"/></linearGradient></defs>
<g clip-path="url(#c)"><rect width="46" height="48" fill="url(#sky)"/>
<path d="M0 23.5 L15.1 23.5 L15.3 21.4 L16.9 21.4 L17.2 23.5 L17.9 23.8 L18.3 20.3 L19.3 17.9 L20.2 13.3 L21.4 11.2 L22.3 14.7 L23 18.4 L23.9 22.1 L25.3 24 L26.7 26.3 L27.2 29.6 L28.8 29.6 L29.5 24.9 L30.5 24 L31.9 23.3 L32.3 21.4 L33.8 21.4 L34.4 23.5 L46 23.5 L46 48 L0 48Z" fill="#fcd95a"/></g>
</svg>
<div class="brand">Опендатабот</div>
</body></html>
